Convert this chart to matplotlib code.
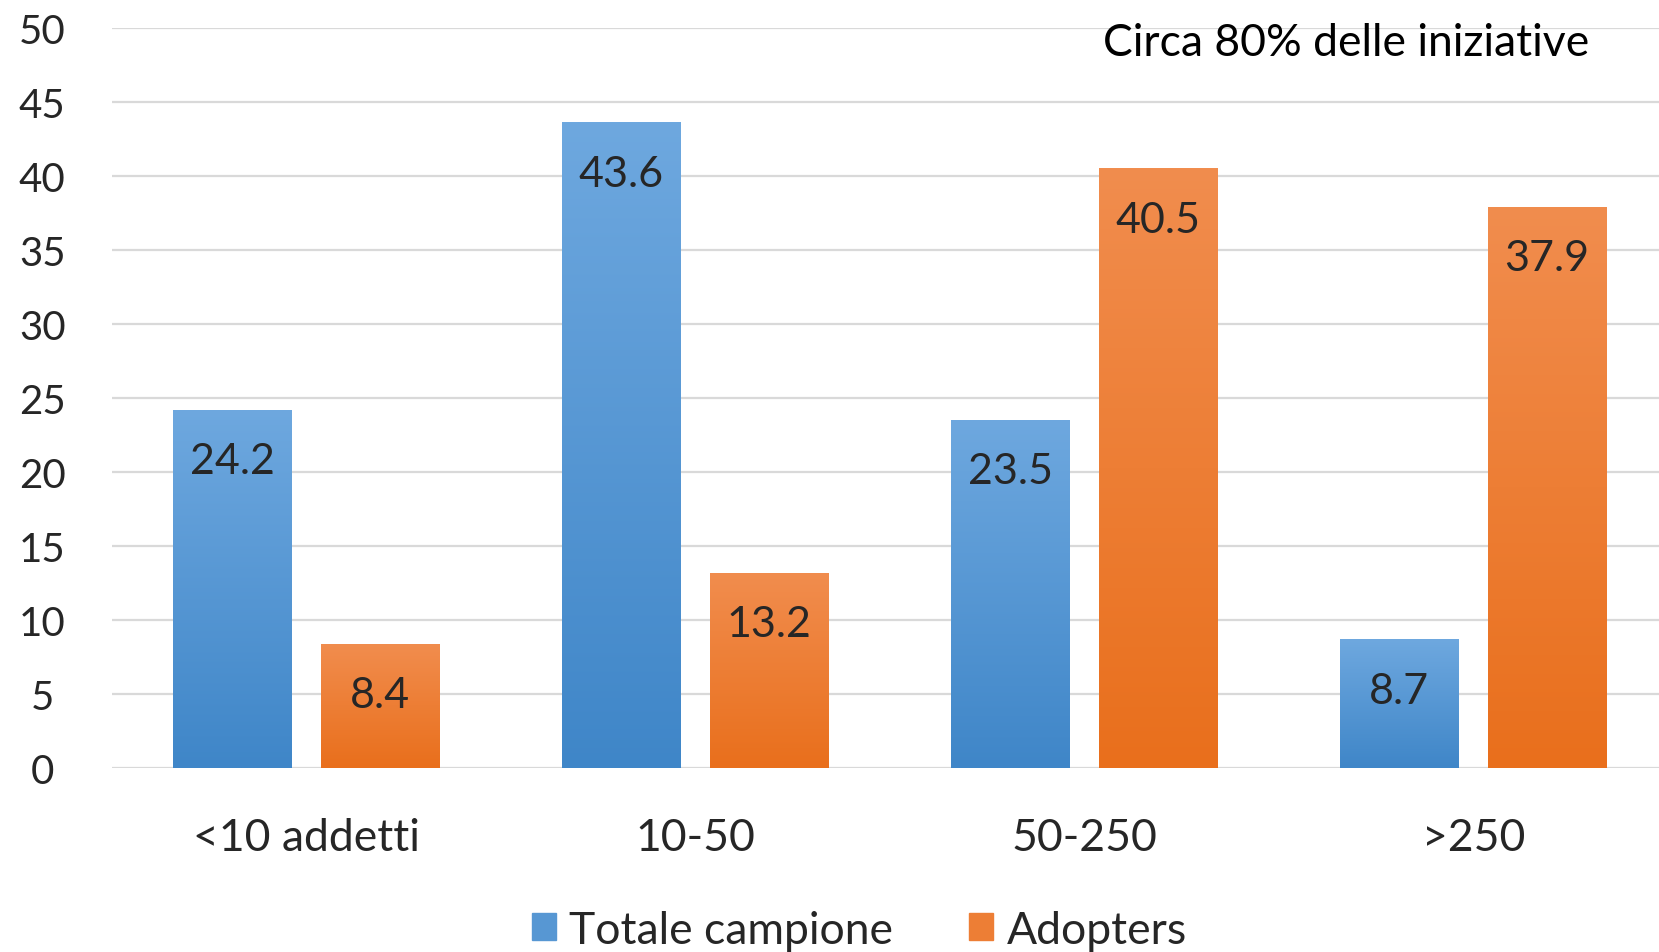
import matplotlib.pyplot as plt
import numpy as np
from matplotlib.patches import Patch

categories = ["<10 addetti", "10-50", "50-250", ">250"]
totale = [24.2, 43.6, 23.5, 8.7]
adopters = [8.4, 13.2, 40.5, 37.9]
series_names = ["Totale campione", "Adopters"]
yticks = [0, 5, 10, 15, 20, 25, 30, 35, 40, 45, 50]
note = "Circa 80% delle iniziative"

plt.rcParams['font.family'] = ['Lato', 'DejaVu Sans']

fig = plt.figure(figsize=(16.59, 9.53), dpi=100)
ax = fig.add_axes([0.0673, 0.193, 0.938, 0.777])

x = np.arange(len(categories))
w = 0.305
off = 0.19

# colori con sfumatura verticale (alto chiaro, basso scuro)
blue_top, blue_bot = np.array([0x6e, 0xa8, 0xdf]) / 255, np.array([0x3f, 0x86, 0xc8]) / 255
orng_top, orng_bot = np.array([0xf1, 0x8d, 0x4e]) / 255, np.array([0xe9, 0x6f, 0x1c]) / 255


def grad_bars(xs, vals, top, bot):
    bars = ax.bar(xs, vals, width=w, color=bot, zorder=2)
    g = np.linspace(0, 1, 256)[:, None]
    img = top[None, None, :] * (1 - g[..., None]) + bot[None, None, :] * g[..., None]
    for b in bars:
        x0, y0 = b.get_x(), b.get_y()
        im = ax.imshow(img, extent=[x0, x0 + b.get_width(), y0, y0 + b.get_height()],
                       aspect='auto', origin='upper', zorder=3)
        im.set_clip_path(b)
    return bars


b1 = grad_bars(x - off, totale, blue_top, blue_bot)
b2 = grad_bars(x + off, adopters, orng_top, orng_bot)

for bars, vals in [(b1, totale), (b2, adopters)]:
    for b, v in zip(bars, vals):
        ax.annotate(f"{v}", (b.get_x() + b.get_width() / 2, v), xytext=(0, -37),
                    textcoords='offset points', ha='center', va='center',
                    fontsize=31, color='#262626', zorder=4)

ax.set_xlim(-0.5, len(categories) - 0.5)
ax.set_ylim(0, 50)
ax.set_yticks(yticks)
ax.set_xticks(x)
ax.set_xticklabels(categories)
ax.grid(axis='y', color='#d9d9d9', linewidth=1.6, zorder=0)
ax.set_axisbelow(True)
for s in ax.spines.values():
    s.set_visible(False)
ax.tick_params(axis='both', length=0, colors='#262626')
ax.tick_params(axis='y', pad=50, labelsize=29)
ax.tick_params(axis='x', pad=35, labelsize=32)
for t in ax.get_yticklabels():
    t.set_horizontalalignment('center')

fig.text(0.958, 0.954, note, ha='right', va='center', fontsize=32, color='black')

handles = [Patch(color=blue_top * 0.5 + blue_bot * 0.5), Patch(color=orng_top * 0.5 + orng_bot * 0.5)]
fig.legend(handles, series_names, loc='center', bbox_to_anchor=(0.518, 0.023), ncol=2,
           frameon=False, fontsize=32, handlelength=0.55, handleheight=0.55,
           handletextpad=0.3, columnspacing=1.7, labelcolor='#262626')

fig.savefig("out.png", dpi=100)
